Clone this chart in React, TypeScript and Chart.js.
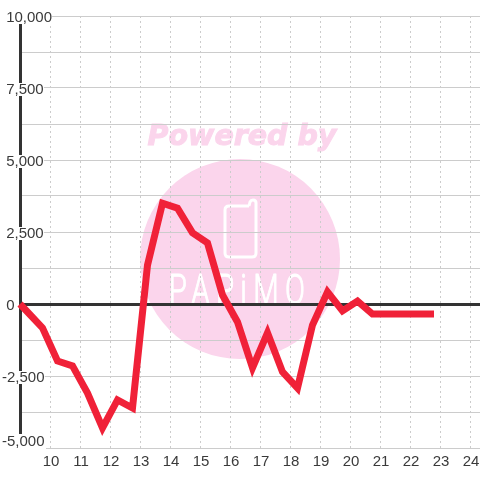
import React, { useEffect, useRef } from "react";
import { Chart, registerables } from "chart.js";

Chart.register(...registerables);

const xValues = [9, 9.75, 10.25, 10.75, 11.25, 11.75, 12.25, 12.75, 13.25, 13.75, 14.25, 14.75, 15.25, 15.75, 16.25, 16.75, 17.25, 17.75, 18.25, 18.75, 19.25, 19.75, 20.25, 20.75, 21.25, 21.75, 22.25, 22.8];
const yValues = [0, -830, -1980, -2150, -3090, -4300, -3330, -3610, 1350, 3500, 3330, 2470, 2120, 310, -625, -2220, -1000, -2360, -2920, -730, 420, -240, 100, -350, -350, -350, -350, -350];
const yTickLabels: Record<string, string> = {
  "10000": "\u00a010,000",
  "7500": "\u00a07,500",
  "5000": "\u00a05,000",
  "2500": "\u00a02,500",
  "0": "\u00a00",
  "-2500": "-2,500",
  "-5000": "-5,000",
};
const xHiddenTicks = [9];
const watermarkTop = "Powered by";
const watermarkBrand = "PAPiMO";

const FONT = '"Liberation Sans", Arial, sans-serif';
const TEXT = "#3a3a3a";
const GRID = "#cccccc";
const DARK = "#333333";
const RED = "#f02138";
const PINK = "#fbd5ec";

const watermark = {
  id: "watermark",
  beforeDraw(chart: any) {
    const c = chart.ctx;
    c.save();
    c.fillStyle = "#ffffff";
    c.fillRect(0, 0, chart.width, chart.height);
    c.fillStyle = PINK;
    c.strokeStyle = PINK;
    c.beginPath();
    c.arc(240, 259, 100, 0, Math.PI * 2);
    c.fill();
    c.font = 'italic bold 28.5px "DejaVu Sans"';
    c.textAlign = "center";
    c.textBaseline = "alphabetic";
    c.lineWidth = 1;
    c.fillText(watermarkTop, 242, 145);
    c.strokeText(watermarkTop, 242, 145);

    // phone
    c.strokeStyle = "#ffffff";
    c.lineWidth = 3;
    c.lineJoin = "round";
    c.beginPath();
    c.moveTo(249, 206);
    c.lineTo(229, 206);
    c.quadraticCurveTo(225, 206, 225, 210);
    c.lineTo(225, 253);
    c.quadraticCurveTo(225, 257, 229, 257);
    c.lineTo(252, 257);
    c.quadraticCurveTo(256, 257, 256, 253);
    c.lineTo(256, 203);
    c.quadraticCurveTo(256, 200, 253, 200);
    c.quadraticCurveTo(251, 200, 250, 202);
    c.lineTo(249, 206);
    c.stroke();

    // brand
    c.save();
    c.translate(240, 304);
    c.scale(0.7, 1);
    c.font = '300 42px "Roboto"';
    c.letterSpacing = "9px";
    c.fillStyle = "#ffffff";
    c.strokeStyle = "#ffffff";
    c.lineWidth = 1;
    c.textAlign = "center";
    c.fillText(watermarkBrand, 0, 0);
    c.strokeText(watermarkBrand, 0, 0);
    c.restore();
    c.restore();
  },
  // the lowest tick label sits on a white patch over the axis end
  beforeDatasetsDraw(chart: any) {
    const c = chart.ctx;
    const bottom = chart.scales.y.getPixelForValue(-5000);
    c.save();
    c.fillStyle = "#ffffff";
    c.fillRect(0, bottom - 14, chart.scales.x.left + 26, 19);
    c.restore();
  },
};

export default function App() {
  const ref = useRef<HTMLCanvasElement | null>(null);
  useEffect(() => {
    document.body.style.margin = "0";
    const chart = new Chart(ref.current as HTMLCanvasElement, {
      type: "line",
      data: {
        datasets: [
          {
            data: xValues.map((x, i) => ({ x, y: yValues[i] })),
            borderColor: RED,
            borderWidth: 7,
            tension: 0,
            pointRadius: 0,
            fill: false,
            clip: false,
          },
        ],
      },
      plugins: [watermark],
      options: {
        animation: false,
        responsive: false,
        layout: { padding: { left: 0, top: 16, right: 0, bottom: 0 } },
        plugins: { legend: { display: false }, tooltip: { enabled: false } },
        scales: {
          x: {
            type: "linear",
            min: 9,
            max: 24.3333,
            afterFit(scale: any) {
              scale.height = 32;
              scale.paddingLeft = 0;
              scale.paddingRight = 0;
            },
            grid: { color: GRID, lineWidth: 1, drawTicks: false },
            border: { display: false, dash: [2, 3] },
            ticks: {
              stepSize: 1,
              includeBounds: false,
              maxRotation: 0,
              autoSkip: false,
              padding: 5,
              labelOffset: 1,
              color: TEXT,
              font: { family: FONT, size: 15 },
              callback: (v: any) => (xHiddenTicks.includes(Number(v)) ? "" : String(v)),
            },
          },
          y: {
            min: -5000,
            max: 10000,
            afterFit(scale: any) {
              scale.width = 20;
            },
            grid: {
              drawTicks: false,
              color: (ctx: any) => (ctx.tick && ctx.tick.value === 0 ? DARK : GRID),
              lineWidth: (ctx: any) => (ctx.tick && ctx.tick.value === 0 ? 3 : 1),
            },
            border: { display: true, color: DARK, width: 3 },
            ticks: {
              z: 1,
              stepSize: 1250,
              mirror: true,
              padding: -18,
              autoSkip: false,
              color: TEXT,
              showLabelBackdrop: (ctx: any) => !!ctx.tick && ctx.tick.value !== -5000,
              backdropColor: "#ffffff",
              backdropPadding: { top: 0.5, bottom: 6.5, left: 0, right: 0 },
              font: (ctx: any) => ({
                family: FONT,
                size: 15,
                lineHeight: ctx.tick && ctx.tick.value === -5000 ? 0.8 : 0.2,
              }),
              callback: (v: any) => {
                const label = yTickLabels[String(v)];
                if (label === undefined) return "";
                return Number(v) === -5000 ? [label, ""] : ["", label];
              },
            },
          },
        },
      },
    } as any);
    return () => chart.destroy();
  }, []);
  return <canvas ref={ref} width={480} height={480} style={{ display: "block" }} />;
}
